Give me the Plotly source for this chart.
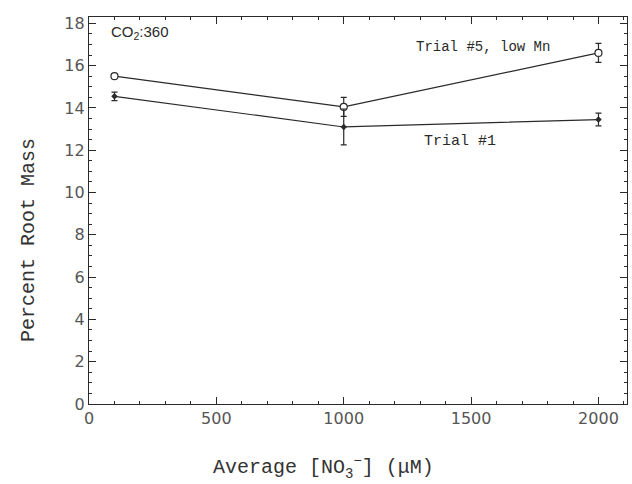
import plotly.graph_objects as go

x_vals = [100, 1000, 2000]
trial5_y = [15.5, 14.05, 16.6]
trial5_err = [0.0, 0.45, 0.45]
trial1_y = [14.55, 13.1, 13.45]
trial1_err = [0.2, 0.85, 0.3]

x_ticks = [0, 500, 1000, 1500, 2000]
y_ticks = [0, 2, 4, 6, 8, 10, 12, 14, 16, 18]

x_title = "Average [NO<sub>3</sub><sup>−</sup>] (μM)"
y_title = "Percent Root Mass"

ink = "#2a2a2a"

fig = go.Figure()
fig.add_trace(go.Scatter(
    x=x_vals, y=trial5_y, mode="lines+markers",
    line=dict(color=ink, width=1.2),
    marker=dict(symbol="circle", size=7, color="white", line=dict(color=ink, width=1.2)),
    error_y=dict(type="data", array=trial5_err, color=ink, thickness=1.2, width=3),
    showlegend=False))
fig.add_trace(go.Scatter(
    x=x_vals, y=trial1_y, mode="lines+markers",
    line=dict(color=ink, width=1.2),
    marker=dict(symbol="diamond", size=5, color=ink),
    error_y=dict(type="data", array=trial1_err, color=ink, thickness=1.2, width=3),
    showlegend=False))

axis_common = dict(
    showline=True, linecolor=ink, linewidth=1.3, mirror="ticks",
    ticks="inside", tickcolor=ink, ticklen=7, tickwidth=1.2,
    showgrid=False, zeroline=False,
    tickfont=dict(family="DejaVu Sans", size=16, color="#555555"),
)

fig.update_xaxes(
    range=[0, 2112], tickvals=x_ticks, ticktext=[str(v) for v in x_ticks],
    minor=dict(ticks="inside", dtick=100, ticklen=3, tickcolor=ink, tickwidth=1),
    **axis_common)
fig.update_yaxes(
    range=[0, 18.3], tickvals=y_ticks, ticktext=[str(v) for v in y_ticks],
    minor=dict(ticks="inside", dtick=0.5, ticklen=3, tickcolor=ink, tickwidth=1),
    **axis_common)

title_font = dict(family="Liberation Mono", size=20, color="#333333")
# axis titles placed as annotations to match the reference offsets
fig.add_annotation(xref="paper", yref="paper", x=(323 - 89) / 538, y=-(467 - 404) / 387,
                   xanchor="center", yanchor="middle", showarrow=False,
                   text=x_title, font=title_font)
fig.add_annotation(xref="paper", yref="paper", x=-(89 - 28) / 538, y=(404 - 240) / 387,
                   xanchor="center", yanchor="middle", showarrow=False, textangle=-90,
                   text=y_title, font=title_font)

fig.add_annotation(x=78, y=17.55, xanchor="left", yanchor="middle", showarrow=False,
                   text="CO<sub>2</sub>:360",
                   font=dict(family="Liberation Sans", size=15, color=ink))
fig.add_annotation(x=1548, y=16.88, xanchor="center", yanchor="middle", showarrow=False,
                   text="Trial #5, low Mn",
                   font=dict(family="Liberation Mono", size=14, color=ink))
fig.add_annotation(x=1458, y=12.43, xanchor="center", yanchor="middle", showarrow=False,
                   text="Trial #1",
                   font=dict(family="Liberation Mono", size=15, color=ink))

fig.update_layout(
    width=632, height=484,
    margin=dict(l=89, r=5, t=17, b=80),
    paper_bgcolor="white", plot_bgcolor="white",
)

fig.write_html("out.html")
